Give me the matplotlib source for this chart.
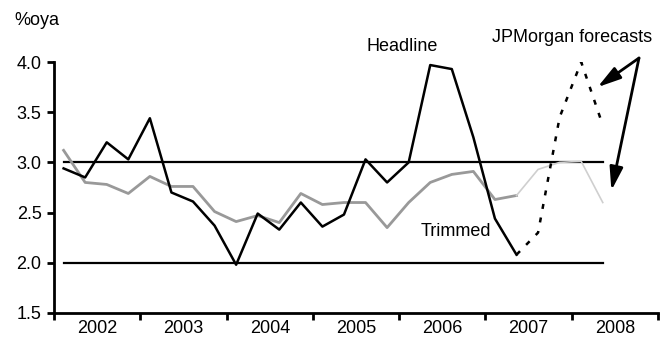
import numpy as np
import matplotlib.pyplot as plt

plt.rcParams['font.family'] = ['Liberation Sans Narrow', 'Liberation Sans', 'DejaVu Sans']

# quarterly data, 2002Q1 .. 2007Q2 actual, 2007Q2 .. 2008Q2 forecast
start_year = 2002
headline = [2.94, 2.85, 3.20, 3.03, 3.44, 2.70, 2.61, 2.37, 1.98, 2.49, 2.33,
            2.60, 2.36, 2.48, 3.03, 2.80, 3.00, 3.97, 3.93, 3.25, 2.44, 2.08]
trimmed = [3.12, 2.80, 2.78, 2.69, 2.86, 2.76, 2.76, 2.51, 2.41, 2.47, 2.40,
           2.69, 2.58, 2.60, 2.60, 2.35, 2.60, 2.80, 2.88, 2.91, 2.63, 2.67]
headline_fc = [2.08, 2.30, 3.45, 4.00, 3.37]
trimmed_fc = [2.67, 2.93, 3.00, 3.01, 2.60]
band = [2.0, 3.0]
years = ['2002', '2003', '2004', '2005', '2006', '2007', '2008']

n_act = len(headline)
x_act = start_year + 0.11 + np.arange(n_act) / 4.0
x_fc = start_year + 0.11 + (n_act - 1 + np.arange(len(headline_fc))) / 4.0

fig = plt.figure(figsize=(6.68, 3.39), dpi=100)
ax = fig.add_axes([0.081, 0.077, 0.904, 0.74])

for b in band:
    ax.plot([x_act[0], x_fc[-1]], [b, b], color='black', lw=1.6, zorder=1)

ax.plot(x_act, trimmed, color='#999999', lw=2, zorder=2)
ax.plot(x_fc, trimmed_fc, color='#cfcfcf', lw=1.2, zorder=2)
ax.plot(x_act, headline, color='black', lw=1.8, zorder=3)
ax.plot(x_fc, headline_fc, color='black', lw=1.8, ls=(0, (2, 3.5)), zorder=3)

ax.set_xlim(2002, 2009)
ax.set_ylim(1.5, 4.0)
ax.set_yticks([1.5, 2.0, 2.5, 3.0, 3.5, 4.0])
ax.set_yticklabels(['%.1f' % v for v in ax.get_yticks()])
ax.set_xticks(np.arange(2002, 2010))
ax.set_xticklabels([])
ax.set_xticks(np.arange(2002, 2009) + 0.5, minor=True)
ax.set_xticklabels(years, minor=True)
ax.tick_params(axis='x', which='minor', length=0, labelsize=13, pad=5)
ax.tick_params(axis='x', which='major', length=5, width=2, direction='out')
ax.tick_params(axis='y', length=5, width=2, labelsize=13, pad=4)
for s in ['top', 'right']:
    ax.spines[s].set_visible(False)
ax.spines['left'].set_linewidth(2)
ax.spines['bottom'].set_linewidth(2)

fig.text(0.021, 0.94, '%oya', fontsize=13, ha='left', va='center')
ax.text(2006.03, 4.15, 'Headline', fontsize=13, ha='center', va='center')
ax.text(2006.66, 2.31, 'Trimmed', fontsize=13, ha='center', va='center')
ax.text(2008.0, 4.24, 'JPMorgan forecasts', fontsize=13, ha='center', va='center')

arrow = dict(arrowstyle='-|>,head_length=1.4,head_width=0.4', color='black', lw=2,
             shrinkA=0, shrinkB=0)
ax.annotate('', xy=(2008.30, 3.75), xytext=(2008.78, 4.04), arrowprops=arrow,
            annotation_clip=False)
ax.annotate('', xy=(2008.46, 2.72), xytext=(2008.78, 4.04), arrowprops=arrow,
            annotation_clip=False)

fig.savefig('out.png', dpi=100)
